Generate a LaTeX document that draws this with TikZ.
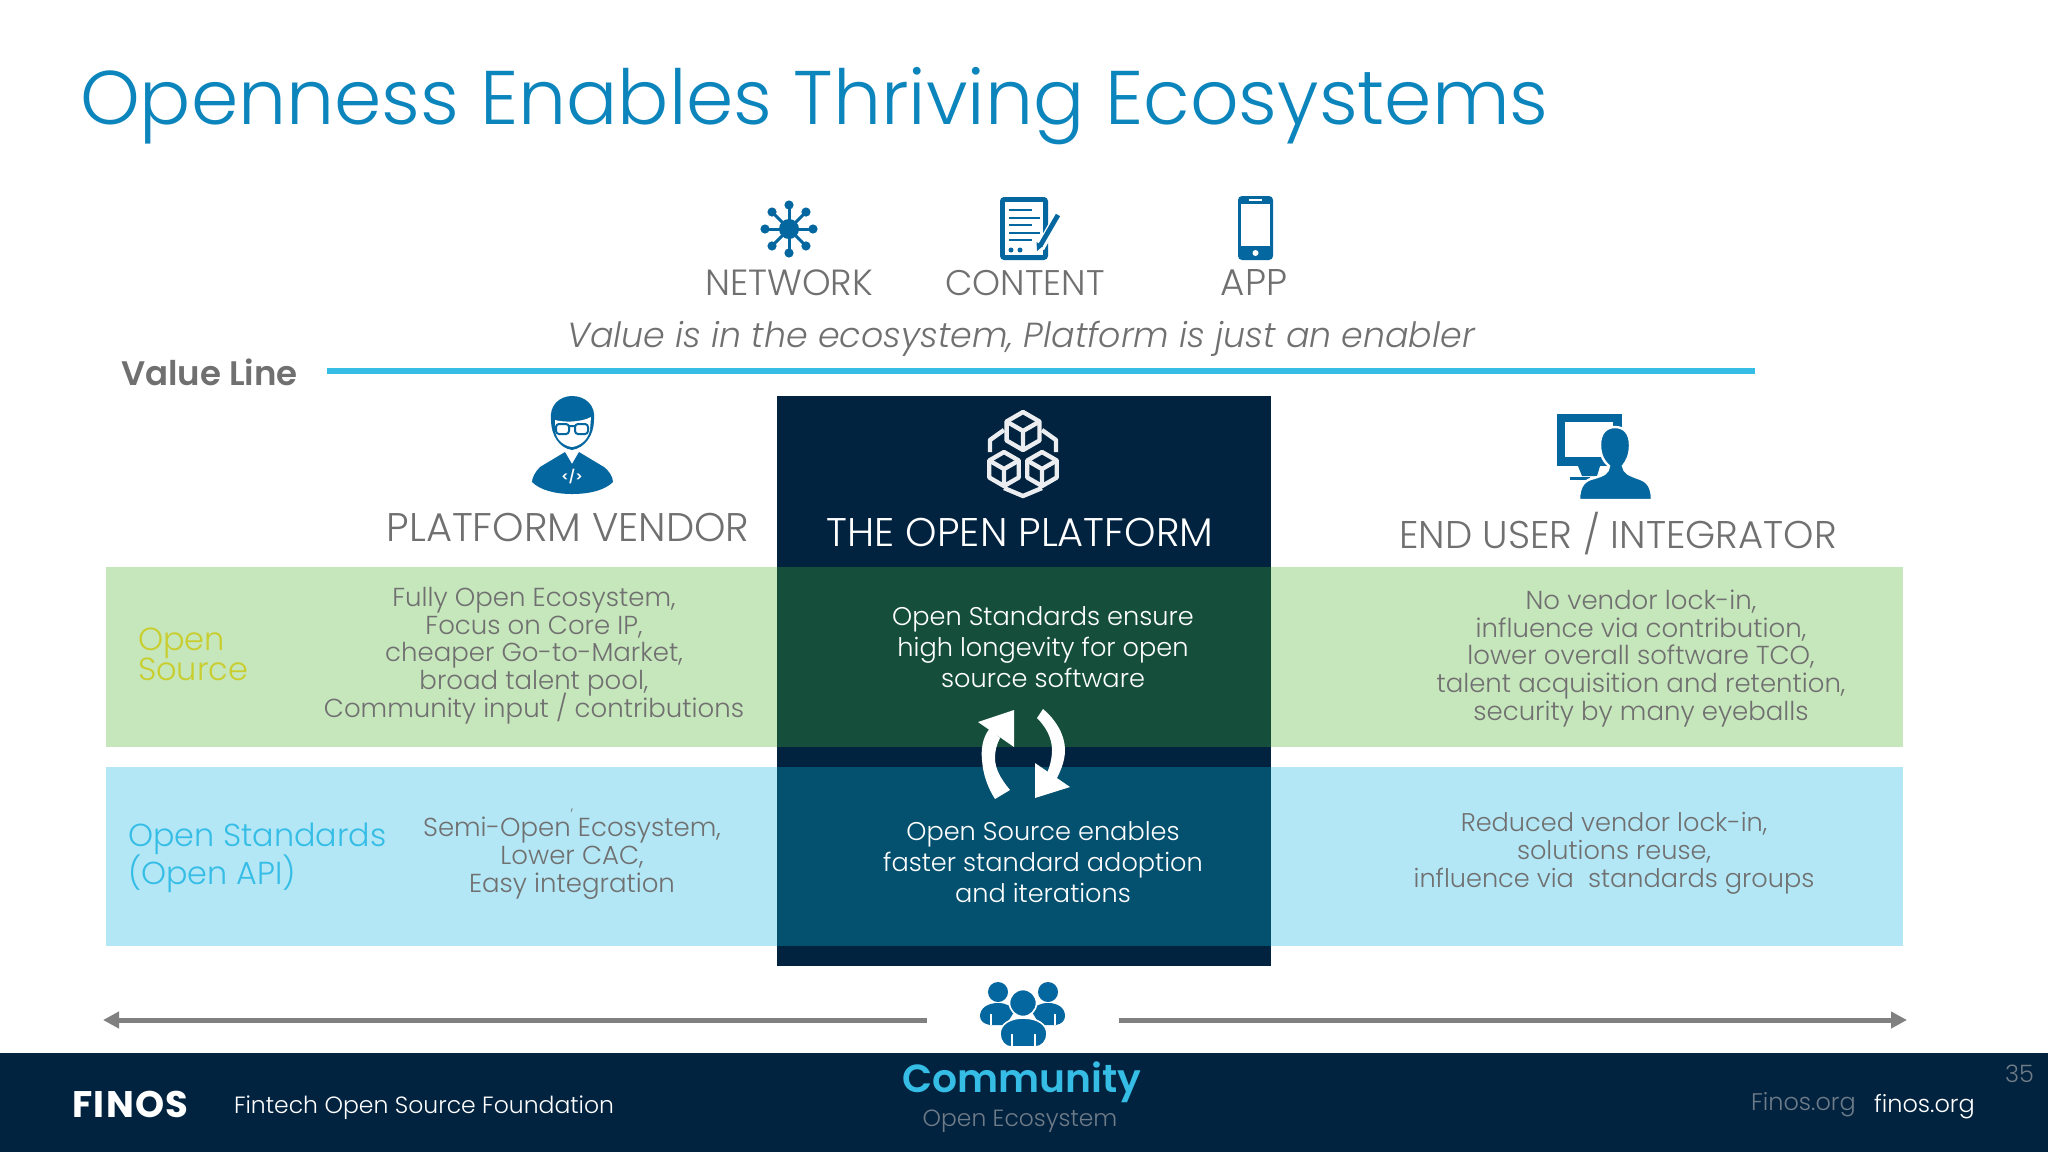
\documentclass[tikz,border=0pt]{standalone}
\usepackage{fontspec}
\usetikzlibrary{arrows.meta}
\setmainfont{Poppins}[UprightFont=* Light,ItalicFont=* Light Italic,BoldFont=* SemiBold]
\newfontfamily\heavy{Poppins}[UprightFont=* Bold,LetterSpace=4]
\definecolor{navy}{HTML}{02233F}
\definecolor{iconblue}{HTML}{05679F}
\definecolor{titleblue}{HTML}{0B85BC}
\definecolor{sky}{HTML}{36BDE6}
\definecolor{greyt}{HTML}{707070}
\definecolor{greyf}{HTML}{6E7B88}
\definecolor{bandg}{HTML}{C6E6BC}
\definecolor{bandb}{HTML}{B3E7F6}
\definecolor{darkg}{HTML}{154F3C}
\definecolor{darkb}{HTML}{04506F}
\definecolor{olive}{HTML}{C9CE2E}
\newcommand{\tightls}{\setlength{\lineskiplimit}{-30pt}}
\newcommand{\cubeicon}[3]{%
  \draw[cubeline] ({#1},{#2-#3}) -- ({#1+.866*#3},{#2-.5*#3}) -- ({#1+.866*#3},{#2+.5*#3}) -- ({#1},{#2+#3}) -- ({#1-.866*#3},{#2+.5*#3}) -- ({#1-.866*#3},{#2-.5*#3}) -- cycle;
  \draw[cubeline] ({#1-.866*#3},{#2-.5*#3}) -- (#1,#2) -- ({#1+.866*#3},{#2-.5*#3}) (#1,#2) -- ({#1},{#2+#3});}
\tikzset{
  txt/.style={inner sep=0pt,outer sep=0pt,anchor=base,text=greyt},
  body/.style={txt,align=center,font=\fontsize{13}{13.8}\selectfont\tightls},
  cbody/.style={txt,align=center,text=white,font=\fontsize{12.8}{15.4}\selectfont\tightls},
  cubeline/.style={draw=white!92!navy,line width=2.2pt,line join=round},
  longarrow/.style={draw=black!50,line width=2.5pt,-{Triangle[length=8pt,width=8pt]}},
}
\begin{document}
\begin{tikzpicture}[x=0.5pt,y=-0.5pt]
\useasboundingbox (0,0) rectangle (2048,1152);
\fill[white] (0,0) rectangle (2048,1152);
% bands
\fill[bandg] (106,567) rectangle (1903,747);
\fill[bandb] (106,767) rectangle (1903,946);
\fill[navy] (777,396) rectangle (1271,966);
\fill[darkg] (777,567) rectangle (1271,747);
\fill[darkb] (777,767) rectangle (1271,946);
\fill[navy] (0,1052.5) rectangle (2048,1152);
% title
\node[txt,anchor=base west,text=titleblue,font=\fontsize{38}{44}\selectfont] (title) at (80,124) {Openness Enables Thriving Ecosystems};
% network icon
\foreach \a in {0,45,...,315}{
  \draw[iconblue,line width=1.5pt] (789,229) -- ++(\a:24);
  \fill[iconblue] (789,229) ++(\a:24) circle[radius=4.6];
}
\fill[iconblue] (789,229) circle[radius=10];
% content icon
\fill[iconblue,rounded corners=2pt] (1000,197) rectangle (1048,260);
\fill[white] (1005,202) rectangle (1043,255);
\foreach \yy/\xe in {210/1032,218/1040,225/1032,233/1040,240/1032}{
  \draw[iconblue,line width=1.2pt] (1009,\yy) -- (\xe,\yy);
}
\fill[iconblue] (1011,250) circle[radius=2.5] (1020,250) circle[radius=2.5];
\draw[white,line width=4.5pt] (1058,216) -- (1040,248);
\draw[iconblue,line width=2.4pt] (1058,215) -- (1040,246);
\fill[iconblue] (1036.5,242) -- (1043,246) -- (1037,251) -- cycle;
% app icon
\fill[iconblue,rounded corners=2pt] (1238,196) rectangle (1273,260);
\fill[white] (1241,204) rectangle (1270,246);
\fill[white] (1255.5,253) circle[radius=3];
\draw[white,line width=.8pt] (1249,200) -- (1262,200);
% top labels
\node[txt,font=\fontsize{18.2}{20}\selectfont] (network) at (789,295) {NETWORK};
\node[txt,font=\fontsize{17.8}{20}\selectfont] (content) at (1025,295) {CONTENT};
\node[txt,font=\fontsize{18.6}{20}\selectfont] (app) at (1254,295) {APP};
\node[txt,font=\fontsize{17.4}{20}\itshape\selectfont] (tagline) at (1021,347) {Value is in the ecosystem, Platform is just an enabler};
\node[txt,anchor=base west,font=\fontsize{17}{20}\bfseries\selectfont] (valueline) at (121,385) {Value Line};
\coordinate (vlA) at (327,371);
\coordinate (vlB) at (1755,371);
\draw[sky,line width=3pt] (vlA) -- (vlB);
% vendor icon
\fill[iconblue] (551,420) .. controls (549,405) and (560,396) .. (572,396) .. controls (585,396) and (596,405) .. (594,420) .. controls (594,435) and (585,448) .. (572,450) .. controls (559,448) and (551,435) .. (551,420) -- cycle;
\fill[white] (555,420) .. controls (562,422) and (580,423) .. (591,417) -- (590,430) .. controls (588,440) and (580,446) .. (572,447) .. controls (564,446) and (556,440) .. (555,430) -- cycle;
\draw[iconblue,line width=1pt,rounded corners=1.5pt] (556,424) rectangle (569,434) (575,424) rectangle (588,434) (569,426) -- (575,426);
\fill[iconblue] (572,464) -- (565,452) -- (540,467) .. controls (535,472) and (532,478) .. (532,482) .. controls (540,490) and (555,494) .. (572,494) .. controls (590,494) and (605,490) .. (613,482) .. controls (613,476) and (608,470) .. (604,467) -- (579,452) -- cycle;
\node[txt,text=white,font=\fontsize{6.5}{8}\bfseries\selectfont] (code) at (572,481) {</>};
% cubes icon
\draw[cubeline] (990,452) -- (990,440) -- (1004,430) (1056,452) -- (1056,440) -- (1042,430) (1004,488) -- (1023,496) -- (1042,488);
\cubeicon{1023}{431}{19}
\cubeicon{1004}{469}{17}
\cubeicon{1042}{469}{17}
% monitor person
\fill[iconblue] (1557,414) rectangle (1622,466);
\fill[white] (1565,422) rectangle (1613,457);
\fill[iconblue] (1578,466) -- (1600,466) -- (1597,476) -- (1582,476) -- cycle;
\fill[iconblue] (1570,477) rectangle (1590,480);
\fill[iconblue,draw=white,line width=1.2pt] (1579,500) .. controls (1579,485) and (1585,480) .. (1594,478) .. controls (1604,475) and (1608,473) .. (1609,466) .. controls (1604,462) and (1600,455) .. (1600,445) .. controls (1600,433) and (1606,427) .. (1615,427) .. controls (1624,427) and (1630,433) .. (1630,445) .. controls (1630,455) and (1627,461) .. (1623,466) .. controls (1624,473) and (1630,475) .. (1638,478) .. controls (1648,481) and (1652,487) .. (1652,500) -- cycle;
% column heads
\node[txt,font=\fontsize{20}{22}\selectfont] (vendor) at (568,541.5) {PLATFORM VENDOR};
\node[txt,text=white,font=\fontsize{20}{22}\selectfont] (openplat) at (1020,546.5) {THE OPEN PLATFORM};
\node[txt,font=\fontsize{19.3}{22}\selectfont] (enduser) at (1618,548.5) {END USER / INTEGRATOR};
% categories
\node[txt,anchor=base west,align=left,text=olive,font=\fontsize{16}{15}\selectfont\tightls] (os) at (138,680) {Open\\Source};
\node[txt,anchor=base west,align=left,text=sky,font=\fontsize{15.9}{19}\selectfont\tightls] (ost) at (128,884) {Open Standards\\(Open API)};
% cells
\node[body] (c11) at (534,717) {Fully Open Ecosystem,\\Focus on Core IP,\\cheaper Go-to-Market,\\broad talent pool,\\Community input / contributions};
\node[cbody] (c12) at (1043,687) {Open Standards ensure\\high longevity for open\\source software};
\node[body] (c13) at (1641,720) {No vendor lock-in,\\influence via contribution,\\lower overall software TCO,\\talent acquisition and retention,\\security by many eyeballs};
\node[txt,font=\fontsize{7}{8}\selectfont] (comma) at (572,810) {,};
\node[body] (c21) at (572,892) {Semi-Open Ecosystem,\\Lower CAC,\\Easy integration};
\node[cbody] (c22) at (1043,902) {Open Source enables\\faster standard adoption\\and iterations};
\node[body,font=\fontsize{12.8}{13.8}\selectfont\tightls] (c23) at (1614,887) {Reduced vendor lock-in,\\solutions reuse,\\influence via\ \ standards groups};
% refresh arrows
\fill[white] (990,728) .. controls (982,738) and (981,750) .. (982,760) .. controls (983,775) and (988,788) .. (995,799) -- (1010,790) .. controls (1000,778) and (995,768) .. (995,758) .. controls (995,750) and (997,744) .. (1000,738) -- cycle;
\fill[white] (978,722) -- (1014,710) -- (1014,747) -- cycle;
\fill[white] (1043,709) .. controls (1056,720) and (1065,735) .. (1065,750) .. controls (1065,762) and (1060,772) .. (1055,782) -- (1046,775) .. controls (1050,767) and (1052,758) .. (1052,750) .. controls (1052,738) and (1046,727) .. (1037,718) -- cycle;
\fill[white] (1035,798) -- (1070,787) -- (1035,763) -- cycle;
% people icon
\fill[iconblue] (998,992) circle[radius=10] (1048,992) circle[radius=10];
\fill[iconblue] (980,1016) .. controls (980,1008) and (988,1003) .. (998,1003) .. controls (1006,1003) and (1012,1006) .. (1014,1012) -- (1006,1025) -- (990,1025) .. controls (984,1024) and (980,1021) .. (980,1016) -- cycle;
\fill[iconblue] (1065,1016) .. controls (1065,1008) and (1058,1003) .. (1048,1003) .. controls (1040,1003) and (1034,1006) .. (1032,1012) -- (1040,1025) -- (1056,1025) .. controls (1061,1024) and (1065,1021) .. (1065,1016) -- cycle;
\fill[iconblue,draw=white,line width=.8pt] (1023,1003) circle[radius=13.5];
\fill[iconblue,draw=white,line width=.8pt] (1000,1034) .. controls (1000,1024) and (1010,1018) .. (1023,1018) .. controls (1037,1018) and (1047,1024) .. (1047,1034) .. controls (1047,1041) and (1042,1047) .. (1035,1047) -- (1011,1047) .. controls (1005,1047) and (1000,1041) .. (1000,1034) -- cycle;
\draw[white,line width=.6pt] (1012,1047) -- (1012,1034) (1035,1047) -- (1035,1034) (991,1025) -- (991,1014) (1055,1025) -- (1055,1014);
% community arrows
\coordinate (commL) at (927,1020);
\coordinate (commR) at (1119,1020);
\coordinate (endL) at (103,1020);
\coordinate (endR) at (1907,1020);
\draw[longarrow] (commL) -- (endL);
\draw[longarrow] (commR) -- (endR);
% footer
\node[txt,anchor=base west,text=white,font=\fontsize{18.5}{20}\heavy] (finos) at (72,1117) {FINOS};
\node[txt,anchor=base west,text=white,font=\fontsize{11.75}{14}\selectfont] (fintech) at (234,1113) {Fintech Open Source Foundation};
\node[txt,text=sky,font=\fontsize{19.6}{24}\bfseries\selectfont] (comm) at (1022,1092) {Community};
\node[txt,text=greyf,font=\fontsize{11.7}{14}\selectfont] (oeco) at (1020,1126) {Open Ecosystem};
\node[txt,anchor=base west,text=greyf,font=\fontsize{12}{14}\selectfont] (f1) at (1751,1110) {Finos.org};
\node[txt,anchor=base west,text=white,font=\fontsize{12}{14}\selectfont] (f2) at (1874,1112) {finos.org};
\node[txt,anchor=base west,text=greyf,font=\fontsize{12}{14}\selectfont] (pg) at (2005,1082) {35};
\end{tikzpicture}
\end{document}
